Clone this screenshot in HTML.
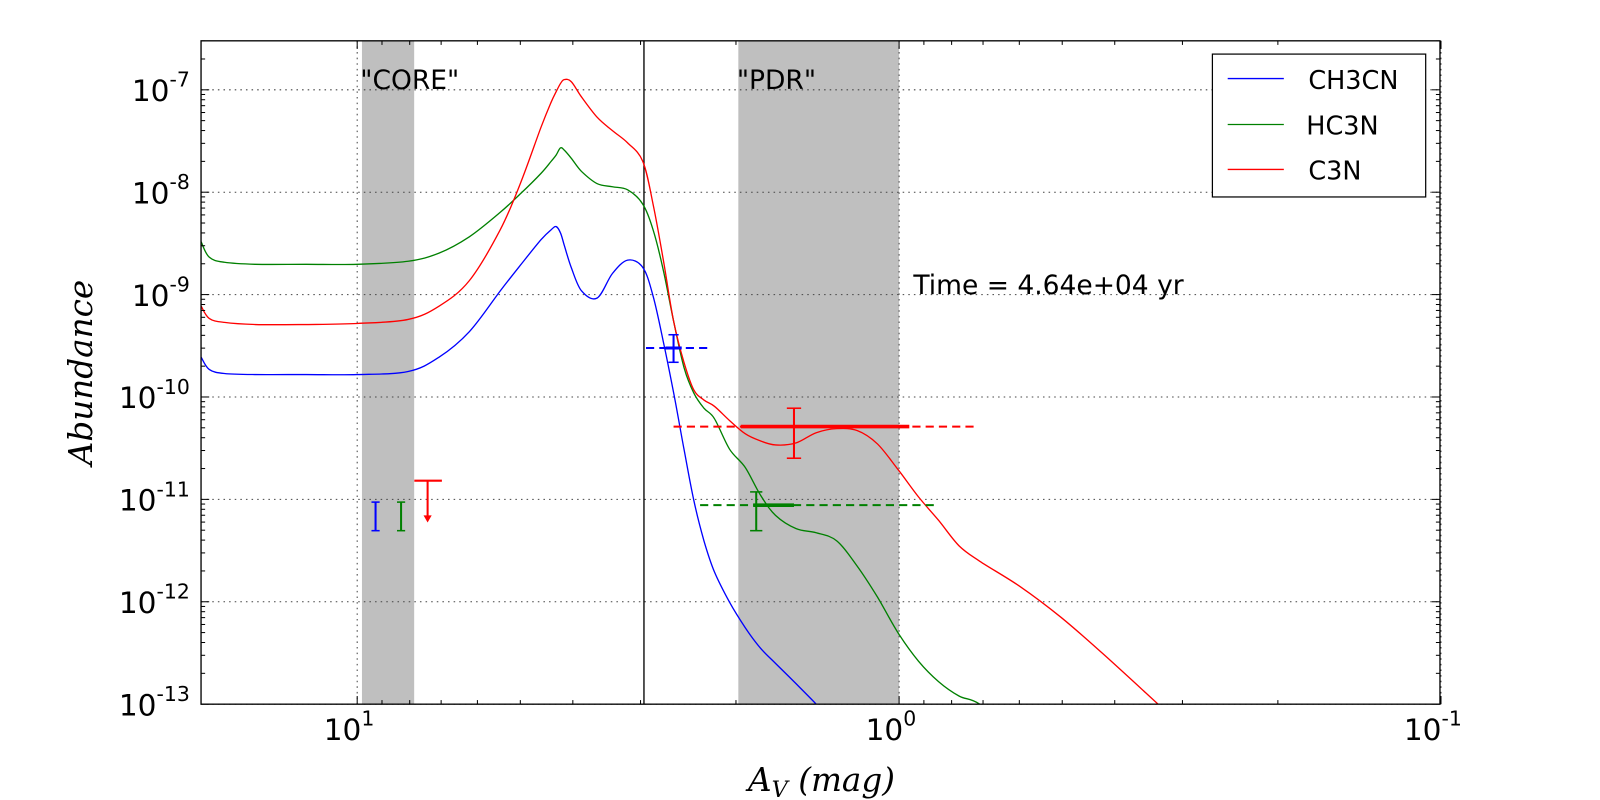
<!DOCTYPE html>
<html><head><meta charset="utf-8"><style>html,body{margin:0;padding:0;background:#fff;overflow:hidden;width:1600px;height:800px}svg{display:block}text{font-family:"DejaVu Sans","Liberation Sans",sans-serif}</style></head>
<body>
<svg id="c" width="1600" height="800" viewBox="0 0 1567.8 783.9" xmlns="http://www.w3.org/2000/svg">
<text x="353" y="87" font-size="26">"CORE"</text>
<text x="722" y="87" font-size="26">"PDR"</text>
<text x="895" y="288" font-size="26">Time = 4.64e+04 yr</text>
<text x="90" y="365" font-size="32" transform="rotate(-90 90 365)" text-anchor="middle" style="font-family:'DejaVu Serif','Liberation Serif',serif;font-style:italic">Abundance</text>
<text x="805" y="775" font-size="32" text-anchor="middle" style="font-family:'DejaVu Serif','Liberation Serif',serif;font-style:italic">A<tspan font-size="22" dy="6">V</tspan><tspan dy="-6"> (mag)</tspan></text>
</svg>
<script>
const logAv=[1.288,1.273,1.245,1.188,1.094,1.0,0.906,0.849,0.793,0.736,0.699,0.661,0.642,0.633,0.625,0.618,0.605,0.586,0.557,0.529,0.501,0.473,0.454,0.435,0.416,0.397,0.379,0.360,0.341,0.313,0.284,0.256,0.228,0.190,0.153,0.115,0.077,0.040,0.002,-0.036,-0.073,-0.111,-0.149,-0.224,-0.299,-0.375,-0.478];
const hc3n=[-8.485,-8.635,-8.684,-8.704,-8.704,-8.704,-8.674,-8.595,-8.435,-8.196,-8.017,-7.817,-7.698,-7.638,-7.568,-7.588,-7.668,-7.797,-7.917,-7.947,-7.977,-8.116,-8.366,-8.764,-9.262,-9.711,-9.960,-10.110,-10.209,-10.508,-10.688,-10.957,-11.156,-11.286,-11.326,-11.405,-11.655,-11.954,-12.303,-12.582,-12.781,-12.921,-13.0,-13.3,null,null,null];
const c3n=[-9.113,-9.233,-9.272,-9.292,-9.292,-9.282,-9.243,-9.113,-8.864,-8.366,-7.917,-7.369,-7.120,-7.020,-6.940,-6.900,-6.920,-7.070,-7.269,-7.399,-7.518,-7.698,-8.116,-8.664,-9.262,-9.661,-9.930,-10.030,-10.090,-10.229,-10.359,-10.429,-10.469,-10.449,-10.349,-10.309,-10.329,-10.459,-10.708,-10.977,-11.206,-11.455,-11.605,-11.854,-12.153,-12.502,-13.0];
const ch3cn=[-9.611,-9.731,-9.771,-9.781,-9.781,-9.781,-9.751,-9.611,-9.362,-8.964,-8.714,-8.465,-8.366,-8.336,-8.395,-8.515,-8.734,-8.964,-9.033,-8.794,-8.664,-8.734,-9.013,-9.462,-9.960,-10.508,-11.007,-11.405,-11.704,-12.003,-12.253,-12.452,-12.602,-12.801,-13.0,-13.22,null,null,null,null,null,null,null,null,null,null,null];
const yTicks=[-7,-8,-9,-10,-11,-12,-13];
const xTicks=[1,0,-1];
const X0=197,X1=1411,Y0=40,Y1=690;
const xs=v=>350+(1-v)*531;
const ys=v=>88+(-7-v)*100.33;
const s=document.getElementById('c');
const NS='http://www.w3.org/2000/svg';
const first=s.firstChild;
function mk(t,a,p){const e=document.createElementNS(NS,t);for(const k in a)e.setAttribute(k,a[k]);if(p)p.appendChild(e);else s.insertBefore(e,first);return e;}
const defs=mk('defs',{});const cp=mk('clipPath',{id:'cl'},defs);mk('rect',{x:X0,y:Y0,width:X1-X0,height:Y1-Y0},cp);
let e;
e=mk('rect',{x:xs(Math.log10(9.8)),y:Y0,width:xs(Math.log10(7.85))-xs(Math.log10(9.8)),height:Y1-Y0,fill:'#bfbfbf'});


e=mk('rect',{x:xs(Math.log10(1.98)),y:Y0,width:xs(Math.log10(1.0))-xs(Math.log10(1.98)),height:Y1-Y0,fill:'#bfbfbf'});


yTicks.forEach(t=>{e=mk('line',{x1:X0,x2:X1,y1:ys(t),y2:ys(t),stroke:'#444','stroke-dasharray':'1.5,4','stroke-width':1});

});
xTicks.forEach(t=>{e=mk('line',{x1:xs(t),x2:xs(t),y1:Y0,y2:Y1,stroke:'#444','stroke-dasharray':'1.5,4','stroke-width':1});

});
e=mk('line',{x1:631,x2:631,y1:Y0,y2:Y1,stroke:'#000','stroke-width':1.3});


function series(arr,col,name){const pts=[];arr.forEach((v,i)=>{if(v!==null)pts.push([xs(logAv[i]),ys(v)]);});
let d='M'+pts[0][0].toFixed(1)+','+pts[0][1].toFixed(1);
for(let i=0;i<pts.length-1;i++){const p0=pts[Math.max(0,i-1)],p1=pts[i],p2=pts[i+1],p3=pts[Math.min(pts.length-1,i+2)];
const c1=[p1[0]+(p2[0]-p0[0])/6,p1[1]+(p2[1]-p0[1])/6],c2=[p2[0]-(p3[0]-p1[0])/6,p2[1]-(p3[1]-p1[1])/6];
d+='C'+c1[0].toFixed(1)+','+c1[1].toFixed(1)+' '+c2[0].toFixed(1)+','+c2[1].toFixed(1)+' '+p2[0].toFixed(1)+','+p2[1].toFixed(1);}
const p=mk('path',{d:d,fill:'none',stroke:col,'stroke-width':1.3,'clip-path':'url(#cl)','stroke-linejoin':'round'});

}
series(hc3n,'#008000','hc3n-line');series(c3n,'#ff0000','c3n-line');series(ch3cn,'#0000ff','ch3cn-line');
function ln(x1,y1,x2,y2,c,w,da){return mk('line',{x1,y1,x2,y2,stroke:c,'stroke-width':w||2,'stroke-dasharray':da||'none'});}
ln(633,341,693,341,'#0000ff',2,'8,5');ln(652,341,668,341,'#0000ff',3);ln(660,328,660,355,'#0000ff',2);ln(655,328,665,328,'#0000ff',1.5);ln(655,355,665,355,'#0000ff',1.5);
ln(660,418,958,418,'#ff0000',2,'8,5');ln(726,418,891,418,'#ff0000',3.5);ln(778,400,778,449,'#ff0000',2);ln(771,400,785,400,'#ff0000',1.5);ln(771,449,785,449,'#ff0000',1.5);
ln(686,495,920,495,'#008000',2,'8,5');ln(738,495,778,495,'#008000',3.5);ln(741,482,741,520,'#008000',2);ln(735,482,747,482,'#008000',1.5);ln(735,520,747,520,'#008000',1.5);
ln(368,492,368,520,'#0000ff',2);ln(364,492,372,492,'#0000ff',1.5);ln(364,520,372,520,'#0000ff',1.5);
ln(393,492,393,520,'#008000',2);ln(389,492,397,492,'#008000',1.5);ln(389,520,397,520,'#008000',1.5);
ln(406,471,433,471,'#ff0000',2);ln(419,471,419,507,'#ff0000',2);mk('path',{d:'M415,505 L423,505 L419,512 Z',fill:'#ff0000'});
e=mk('rect',{x:X0,y:Y0,width:X1-X0,height:Y1-Y0,fill:'none',stroke:'#000','stroke-width':1.3});


for(let d=-13;d<=-7;d++){[1,2,3,4,5,6,7,8,9].forEach(m=>{const v=d+Math.log10(m);if(v>-6.52)return;const y=ys(v);const L=m==1?8:4;ln(X0,y,X0+L,y,'#000',1);ln(X1,y,X1-L,y,'#000',1);});}
for(let d=-1;d<=1;d++){[1,2,3,4,5,6,7,8,9].forEach(m=>{const v=d+Math.log10(m);if(v>1.288)return;const x=xs(v);const L=m==1?8:4;ln(x,Y0,x,Y0+L,'#000',1);ln(x,Y1,x,Y1-L,'#000',1);});}
yTicks.forEach(t=>{const tx=mk('text',{x:186,y:ys(t)+11,'text-anchor':'end','font-size':29});tx.innerHTML='10<tspan dy="-14" font-size="20">'+t+'</tspan>';

});
xTicks.forEach(t=>{const tx=mk('text',{x:xs(t)-8,y:725,'text-anchor':'middle','font-size':29});tx.innerHTML='10<tspan dy="-14" font-size="20">'+t+'</tspan>';

});
const lg=document.createElementNS(NS,'g');s.appendChild(lg);


lg.innerHTML='<rect x="1188" y="53" width="209" height="140" fill="#fff" stroke="#000" stroke-width="1.2"/>'+
'<line x1="1203" x2="1258" y1="77" y2="77" stroke="#0000ff" stroke-width="1.3"/><text x="1282" y="87" font-size="25">CH3CN</text>'+
'<line x1="1203" x2="1258" y1="122" y2="122" stroke="#008000" stroke-width="1.3"/><text x="1280" y="132" font-size="25">HC3N</text>'+
'<line x1="1203" x2="1258" y1="166" y2="166" stroke="#ff0000" stroke-width="1.3"/><text x="1282" y="176" font-size="25">C3N</text>';
</script>
</body></html>
